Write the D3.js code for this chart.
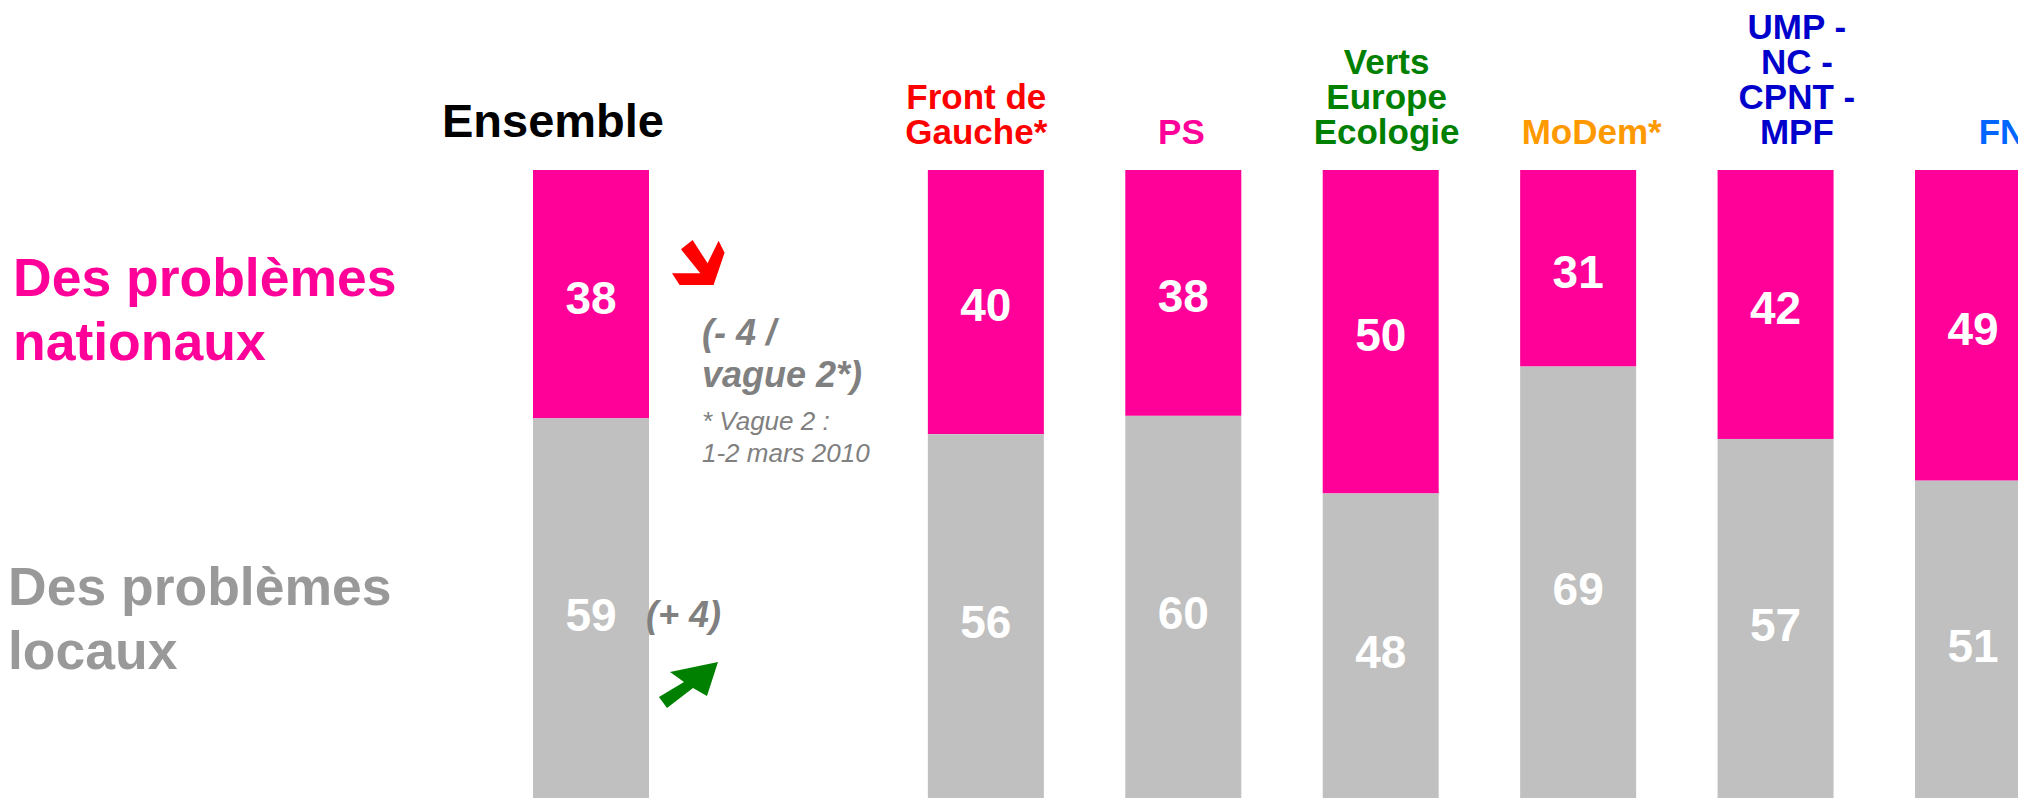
<!DOCTYPE html>
<html>
<head>
<meta charset="utf-8">
<script src="https://cdn.jsdelivr.net/npm/d3@7"></script>
<style>
  body { margin: 0; background: #fff; }
  svg { display: block; }
</style>
</head>
<body>
<div id="chart"></div>
<script>
const width = 2018;
const height = 798;

// data
const parties = ["Ensemble", "Front de Gauche*", "PS", "Verts Europe Ecologie", "MoDem*", "UMP - NC - CPNT - MPF", "FN"];
const partyLines = [["Ensemble"], ["Front de", "Gauche*"], ["PS"], ["Verts", "Europe", "Ecologie"], ["MoDem*"], ["UMP -", "NC -", "CPNT -", "MPF"], ["FN"]];
const nationaux = [38, 40, 38, 50, 31, 42, 49];
const locaux = [59, 56, 60, 48, 69, 57, 51];
const rowLabels = [["Des problèmes", "nationaux"], ["Des problèmes", "locaux"]];
const evolution = ["(- 4 /", "vague 2*)"];
const evolutionLocal = "(+ 4)";
const footnote = ["* Vague 2 :", "1-2 mars 2010"];

// colours
const pink = "#FF0099";
const grey = "#C0C0C0";
const partyColor = {
  "Ensemble": "#000000",
  "Front de Gauche*": "#FF0000",
  "PS": "#FF0099",
  "Verts Europe Ecologie": "#008000",
  "MoDem*": "#FF9900",
  "UMP - NC - CPNT - MPF": "#0000CC",
  "FN": "#0066FF"
};
const font = "'Liberation Sans', Arial, sans-serif";

const svg = d3.select("#chart")
  .append("svg")
  .attr("width", width)
  .attr("height", height)
  .attr("viewBox", `0 0 ${width} ${height}`)
  .style("font-family", font);

const data = parties.map((p, i) => ({ party: p, nationaux: nationaux[i], locaux: locaux[i] }));

// a blank slot sits between Ensemble and the parties
const xDomain = [parties[0], "_gap", ...parties.slice(1)];

const xScale = d3.scaleBand()
  .domain(xDomain)
  .range([533, 2031])
  .paddingInner(0.4125)
  .paddingOuter(0);

// party titles sit on a slightly wider grid than the bars
const labelScale = d3.scalePoint()
  .domain(xDomain)
  .range([566, 2002]);

const yScale = d3.scaleLinear()
  .domain([0, 1])
  .range([170, 804]);

// each bar is shown as 100% of the answers
const stack = d3.stack()
  .keys(["nationaux", "locaux"])
  .offset(d3.stackOffsetExpand);

const series = stack(data);
const colorScale = d3.scaleOrdinal().domain(["nationaux", "locaux"]).range([pink, grey]);

// bars
const bars = svg.append("g");
bars.selectAll("g")
  .data(series)
  .join("g")
  .attr("fill", d => colorScale(d.key))
  .selectAll("rect")
  .data(d => d)
  .join("rect")
  .attr("x", d => xScale(d.data.party))
  .attr("y", d => yScale(d[0]))
  .attr("width", xScale.bandwidth())
  .attr("height", d => yScale(d[1]) - yScale(d[0]));

// values
bars.selectAll("g.values")
  .data(series)
  .join("g")
  .attr("class", "values")
  .selectAll("text")
  .data(d => d.map(v => ({ v, key: d.key })))
  .join("text")
  .attr("x", d => xScale(d.v.data.party) + xScale.bandwidth() / 2)
  .attr("y", d => (yScale(d.v[0]) + yScale(d.v[1])) / 2)
  .attr("dy", "0.42em")
  .attr("text-anchor", "middle")
  .attr("fill", "#fff")
  .attr("font-size", "46px")
  .attr("font-weight", "bold")
  .text(d => d.v.data[d.key]);

// column titles
const titles = svg.append("g");
parties.forEach((p, i) => {
  const lines = partyLines[i];
  const isTotal = i === 0;
  const size = isTotal ? 47 : 35;
  const pitch = 35;
  const lastBase = isTotal ? 137 : 144;
  const cx = labelScale(p) + (isTotal ? -13 : 0);
  titles.append("text")
    .attr("text-anchor", "middle")
    .attr("fill", partyColor[p])
    .attr("font-size", size + "px")
    .attr("font-weight", "bold")
    .selectAll("tspan")
    .data(lines)
    .join("tspan")
    .attr("x", cx)
    .attr("y", (d, j) => lastBase - (lines.length - 1 - j) * pitch)
    .text(d => d);
});

// row labels
const rowColor = [pink, "#999999"];
const rowX = [13, 8];
const rowBase = [296, 605];
rowLabels.forEach((lines, i) => {
  svg.append("text")
    .attr("fill", rowColor[i])
    .attr("font-size", "53.5px")
    .attr("font-weight", "bold")
    .selectAll("tspan")
    .data(lines)
    .join("tspan")
    .attr("x", rowX[i])
    .attr("y", (d, j) => rowBase[i] + j * 63.5)
    .text(d => d);
});

// evolution notes next to Ensemble
const barRight = xScale(parties[0]) + xScale.bandwidth();
const notes = svg.append("g").attr("fill", "#808080");

notes.append("text")
  .attr("font-size", "36px")
  .attr("font-weight", "bold")
  .attr("font-style", "italic")
  .selectAll("tspan")
  .data(evolution)
  .join("tspan")
  .attr("x", barRight + 53)
  .attr("y", (d, j) => 345 + j * 42)
  .text(d => d);

notes.append("text")
  .attr("font-size", "26px")
  .attr("font-style", "italic")
  .selectAll("tspan")
  .data(footnote)
  .join("tspan")
  .attr("x", barRight + 53)
  .attr("y", (d, j) => 430 + j * 31.7)
  .text(d => d);

notes.append("text")
  .attr("x", barRight - 3)
  .attr("y", 627)
  .attr("font-size", "36px")
  .attr("font-weight", "bold")
  .attr("font-style", "italic")
  .text(evolutionLocal);

// arrows
const downArrow = [[9, 9.3], [20.6, 0], [35.6, 23.3], [46.6, 0.7], [52.6, 12.7], [41.6, 45], [7.6, 45], [0, 33.3], [28.3, 33.3]];
const upArrow = [[57, 0], [9, 10], [23, 20], [-2, 35], [6, 46], [32, 26], [46, 34]];

svg.append("path")
  .attr("transform", `translate(${barRight + 23}, 240)`)
  .attr("d", d3.line()(downArrow) + "Z")
  .attr("fill", "#FF0000");

svg.append("path")
  .attr("transform", `translate(${barRight + 12}, 662)`)
  .attr("d", d3.line()(upArrow) + "Z")
  .attr("fill", "#008000");
</script>
</body>
</html>
